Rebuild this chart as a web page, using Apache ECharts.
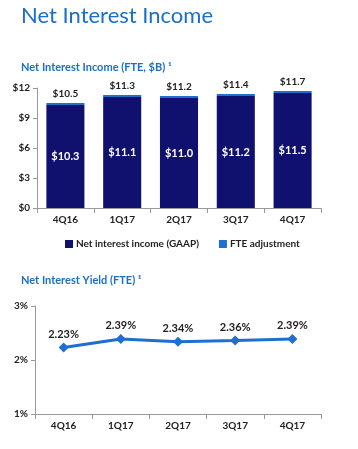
<!DOCTYPE html>
<html><head><meta charset="utf-8">
<script src="https://cdn.jsdelivr.net/npm/echarts@6/dist/echarts.min.js"></script>
<style>html,body{margin:0;padding:0;background:#fff}#c{width:358px;height:449px}</style>
</head><body><div id="c"></div>
<script>
const categories = ['4Q16','1Q17','2Q17','3Q17','4Q17'];
const gaapValues = [10.3, 11.1, 11.0, 11.2, 11.5];
const fteValues = [0.2, 0.2, 0.2, 0.2, 0.2];
const totalLabels = ['$10.5','$11.3','$11.2','$11.4','$11.7'];
const yieldValues = [2.23, 2.39, 2.34, 2.36, 2.39];
const barTicks = [0, 3, 6, 9, 12];
const yieldTicks = [1, 2, 3];

const FONT = 'Lato';
const NAVY = '#10106e';
const BLUE = '#1e6fd0';
const TXT = '#222';
const chart = echarts.init(document.getElementById('c'), null, {renderer:'canvas'});
const axisLineStyle = {show:true, lineStyle:{color:'#999', width:1}};
chart.setOption({
  animation:false,
  textStyle:{fontFamily:FONT},
  title:[
    {text:'Net Interest Income', left:16, top:0, textStyle:{fontFamily:FONT, fontSize:22, fontWeight:'normal', color:'#1a6fc8'}},
    {text:'Net Interest Income (FTE, $B) \u00B9', left:16, top:57, textStyle:{fontFamily:FONT, fontSize:11, fontWeight:'bold', color:'#1a6fc8'}},
    {text:'Net Interest Yield (FTE) \u00B9', left:16, top:270, textStyle:{fontFamily:FONT, fontSize:11, fontWeight:'bold', color:'#1a6fc8'}}
  ],
  legend:{
    left:60, top:234, itemWidth:8, itemHeight:8, itemGap:20, icon:'rect',
    textStyle:{fontFamily:FONT, fontSize:10, color:TXT, fontWeight:'bold', padding:[0,0,0,-2]},
    data:['Net interest income (GAAP)','FTE adjustment']
  },
  grid:[
    {left:37, right:37, top:88, height:120},
    {left:35, right:37, top:306, height:108}
  ],
  xAxis:[
    {type:'category', gridIndex:0, data:categories, axisLine:axisLineStyle,
     axisTick:{show:true, alignWithLabel:false, lineStyle:{color:'#999'}},
     axisLabel:{fontFamily:FONT, fontSize:10, fontWeight:'bold', color:TXT, margin:7}},
    {type:'category', gridIndex:1, data:categories, axisLine:axisLineStyle,
     axisTick:{show:true, lineStyle:{color:'#999'}},
     axisLabel:{fontFamily:FONT, fontSize:10, fontWeight:'bold', color:TXT, margin:7}}
  ],
  yAxis:[
    {type:'value', gridIndex:0, min:barTicks[0], max:barTicks[barTicks.length-1], interval:3,
     axisLine:axisLineStyle, axisTick:{show:true, length:4, lineStyle:{color:'#999'}}, splitLine:{show:false},
     axisLabel:{fontFamily:FONT, fontSize:10, fontWeight:'bold', color:TXT, margin:7, formatter:v=>'$'+v}},
    {type:'value', gridIndex:1, min:yieldTicks[0], max:yieldTicks[yieldTicks.length-1], interval:1,
     axisLine:axisLineStyle, axisTick:{show:true, length:4, lineStyle:{color:'#999'}}, splitLine:{show:false},
     axisLabel:{fontFamily:FONT, fontSize:10, fontWeight:'bold', color:TXT, margin:7, formatter:v=>v+'%'}}
  ],
  series:[
    {name:'Net interest income (GAAP)', type:'bar', stack:'nii', xAxisIndex:0, yAxisIndex:0,
     data:gaapValues, barCategoryGap:'33%', itemStyle:{color:NAVY},
     label:{show:true, position:'inside', color:'#fff', fontFamily:FONT, fontSize:11, fontWeight:'bold', formatter:p=>'$'+p.value.toFixed(1)}},
    {name:'FTE adjustment', type:'bar', stack:'nii', xAxisIndex:0, yAxisIndex:0,
     data:fteValues, itemStyle:{color:BLUE},
     label:{show:true, position:'top', distance:4, color:TXT, fontFamily:FONT, fontSize:10, fontWeight:'bold', formatter:p=>totalLabels[p.dataIndex]}},
    {name:'Net Interest Yield', type:'line', xAxisIndex:1, yAxisIndex:1, data:yieldValues,
     symbol:'diamond', symbolSize:10, lineStyle:{color:BLUE, width:3}, itemStyle:{color:BLUE},
     label:{show:true, position:'top', distance:3, color:TXT, fontFamily:FONT, fontSize:11, fontWeight:'bold', formatter:p=>p.value.toFixed(2)+'%'}}
  ]
});
</script></body></html>
